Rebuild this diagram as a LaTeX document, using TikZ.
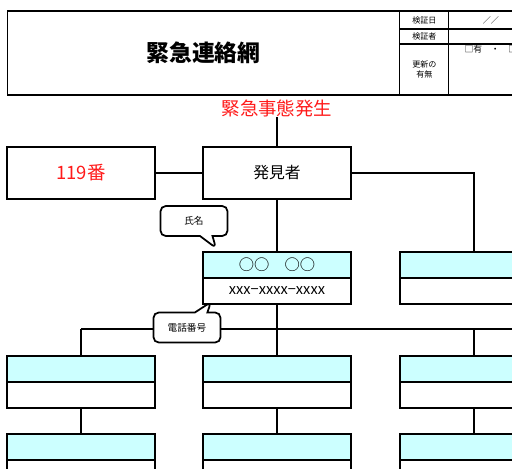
\documentclass[tikz,border=0pt]{standalone}
\usepackage{fontspec}
\setmainfont{Noto Sans CJK JP}
\usetikzlibrary{positioning,shapes.callouts}
\definecolor{namecyan}{HTML}{CCFFFF}
\definecolor{alertred}{HTML}{FF1A1A}

\begin{document}
\begin{tikzpicture}[
    x=0.02cm, y=-0.02cm,
    line width=0.6pt,
    cell/.style={draw, minimum width=2.96cm, inner sep=0pt, outer sep=0pt, align=center},
    single/.style={cell, minimum height=1.04cm, font=\fontsize{9}{10}\selectfont},
    namebox/.style={cell, fill=namecyan, minimum height=0.52cm, font=\fontsize{8.7}{10}\selectfont},
    telbox/.style={cell, minimum height=0.52cm, font=\fontsize{8.3}{9}\selectfont},
    hdrcell/.style={draw, minimum width=0.98cm, inner sep=0pt, outer sep=0pt, align=center, font=\fontsize{4.6}{6}\selectfont},
    valcell/.style={hdrcell, minimum width=1.68cm},
    balloon/.style={rectangle callout, draw, fill=white, rounded corners=3pt, line width=1pt, minimum width=1.34cm, minimum height=0.6cm, inner sep=0pt, font=\fontsize{5.5}{6}\selectfont},
]
\useasboundingbox (0,0) rectangle (512,468);
\clip (0,0) rectangle (512,468);

% header table
\node[draw, minimum width=7.86cm, minimum height=1.68cm, inner sep=0pt, outer sep=0pt, font=\bfseries\fontsize{13}{15}\selectfont] (title) at (203.5,53) {緊急連絡網};
\node[hdrcell, minimum height=0.36cm, anchor=north west] (chkdate) at (title.north east) {検証日};
\node[hdrcell, minimum height=0.3cm, below=0pt of chkdate] (chker) {検証者};
\node[hdrcell, minimum height=1.02cm, below=0pt of chker] (upd) {更新の\\有無};
\node[valcell, minimum height=0.36cm, right=0pt of chkdate] (dateval) {／／};
\node[valcell, minimum height=0.3cm, right=0pt of chker] (chkerval) {};
\node[valcell, minimum height=1.02cm, right=0pt of upd] (updval) {};
\node[font=\fontsize{5}{6}\selectfont, inner sep=0pt, anchor=north west] (updmark) at (464,44.5) {□有　・　□無};

% top level
\node[text=alertred, font=\fontsize{10.5}{12}\selectfont, inner sep=0pt] (event) at (277,108) {緊急事態発生};
\node[single, text=alertred, font=\fontsize{10.5}{12}\selectfont] (fire) at (81,173) {119番};
\node[single] (finder) at (277,173) {発見者};

% second level
\node[namebox] (n1) at (277,265) {○○　○○};
\node[telbox, below=0pt of n1] (t1) {xxx−xxxx−xxxx};
\node[namebox] (n2) at (474,265) {};
\node[telbox, below=0pt of n2] (t2) {};

\draw (event) -- (finder);
\draw (fire) -- (finder);
\draw (finder) -- (n1);
\draw (finder.east) -| (n2.north);

% lower levels
\coordinate (busend) at (530,329);
\foreach \c/\x in {a/81, b/277, c/474} {
  \node[namebox] (r\c) at (\x,369) {};
  \node[telbox, below=0pt of r\c] (rt\c) {};
  \node[namebox] (s\c) at (\x,447) {};
  \node[telbox, below=0pt of s\c] (st\c) {};
  \draw (rt\c) -- (s\c);
  \draw (r\c.north) -- (r\c.north |- busend);
}
\draw (ra.north |- busend) -- (busend);
\draw (t1) -- (rb);

% balloons
\node[balloon, callout absolute pointer={(216,248)}] (namenote) at (194,221) {氏名};
\node[balloon, callout absolute pointer={(211,302)}] (telnote) at (187,327.5) {電話番号};
\end{tikzpicture}
\end{document}
